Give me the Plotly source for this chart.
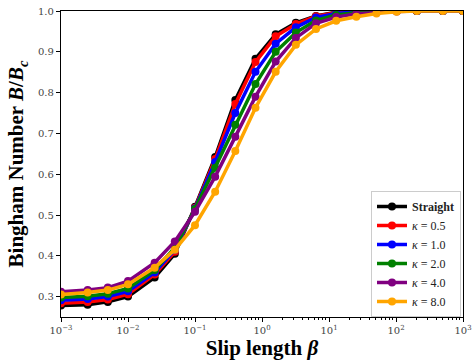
import plotly.graph_objects as go

# Slip length values (log-spaced sweep)
beta = [0.001, 0.0025, 0.005, 0.01, 0.025, 0.05, 0.1, 0.2, 0.4, 0.8, 1.6,
        3.2, 6.4, 12.8, 25.6, 51.2, 102.4, 204.8, 500, 1000]

# Normalised Bingham number B/B_c for each channel
straight = [0.278, 0.280, 0.287, 0.300, 0.347, 0.405, 0.520, 0.642, 0.782, 0.883,
            0.943, 0.971, 0.988, 0.997, 1.000, 1.000, 1.000, 1.000, 1.000, 1.000]
kappa_05 = [0.284, 0.287, 0.293, 0.306, 0.354, 0.410, 0.518, 0.637, 0.772, 0.875,
            0.938, 0.968, 0.987, 0.996, 0.999, 1.000, 1.000, 1.000, 1.000, 1.000]
kappa_10 = [0.291, 0.294, 0.300, 0.313, 0.359, 0.415, 0.516, 0.630, 0.750, 0.851,
            0.920, 0.960, 0.984, 0.994, 0.998, 1.000, 1.000, 1.000, 1.000, 1.000]
kappa_20 = [0.298, 0.301, 0.307, 0.320, 0.365, 0.420, 0.515, 0.616, 0.721, 0.821,
            0.900, 0.947, 0.977, 0.990, 0.996, 0.999, 1.000, 1.000, 1.000, 1.000]
kappa_40 = [0.312, 0.316, 0.322, 0.338, 0.383, 0.435, 0.508, 0.594, 0.692, 0.790,
            0.876, 0.934, 0.970, 0.985, 0.993, 0.997, 0.999, 1.000, 1.000, 1.000]
kappa_80 = [0.305, 0.310, 0.316, 0.330, 0.371, 0.415, 0.475, 0.557, 0.657, 0.763,
            0.851, 0.917, 0.956, 0.976, 0.986, 0.994, 0.998, 1.000, 1.000, 1.000]

series_names = ["<b>Straight</b>", "<i>κ</i> = 0.5", "<i>κ</i> = 1.0",
                "<i>κ</i> = 2.0", "<i>κ</i> = 4.0", "<i>κ</i> = 8.0"]
series_values = [straight, kappa_05, kappa_10, kappa_20, kappa_40, kappa_80]
series_colors = ["black", "red", "blue", "green", "purple", "orange"]

x_tickvals = [0.001, 0.01, 0.1, 1, 10, 100, 1000]
x_ticktext = ["10<sup>−3</sup>", "10<sup>−2</sup>", "10<sup>−1</sup>", "10<sup>0</sup>",
              "10<sup>1</sup>", "10<sup>2</sup>", "10<sup>3</sup>"]
y_tickvals = [0.3, 0.4, 0.5, 0.6, 0.7, 0.8, 0.9, 1.0]
y_ticktext = ["0.3", "0.4", "0.5", "0.6", "0.7", "0.8", "0.9", "1.0"]

serif = "DejaVu Serif"
title_font = "Liberation Serif"

fig = go.Figure()
for name, vals, col in zip(series_names, series_values, series_colors):
    fig.add_trace(go.Scatter(
        x=beta, y=vals, name=name, mode="lines+markers",
        line=dict(color=col, width=3.5),
        marker=dict(color=col, size=8),
    ))

fig.update_layout(
    width=475, height=360,
    margin=dict(l=61, r=3, t=11, b=43),
    paper_bgcolor="white", plot_bgcolor="white",
    font=dict(family=serif, color="black"),
    legend=dict(
        x=0.995, y=0.0, xanchor="right", yanchor="bottom",
        bgcolor="rgba(255,255,255,0.9)", bordercolor="#cccccc", borderwidth=1,
        font=dict(family=title_font, size=12, color="#222222"), itemwidth=30,
        tracegroupgap=0,
    ),
)

fig.update_xaxes(
    type="log", range=[-3, 3],
    tickvals=x_tickvals, ticktext=x_ticktext,
    tickfont=dict(family=serif, size=10, color="#444444"),
    ticklabeloverflow="allow",
    ticks="outside", ticklen=4, tickwidth=1, tickcolor="black",
    minor=dict(ticks="outside", ticklen=2, tickcolor="black",
               tickvals=[m * 10 ** e for e in range(-3, 3) for m in range(2, 10)]),
    showline=True, linecolor="black", linewidth=1.2, mirror=True,
    showgrid=False, zeroline=False,
    title=dict(text="<b>Slip length <i>β</i></b>",
               font=dict(family=title_font, size=21), standoff=6),
)
fig.update_yaxes(
    range=[0.25, 1.0],
    tickvals=y_tickvals, ticktext=y_ticktext,
    tickfont=dict(family=serif, size=10, color="#444444"),
    ticks="outside", ticklen=4, tickwidth=1, tickcolor="black",
    showline=True, linecolor="black", linewidth=1.2, mirror=True,
    showgrid=False, zeroline=False,
    title=dict(text="<b>Bingham Number <i>B</i>/<i>B<sub>c</sub></i></b>",
               font=dict(family=title_font, size=21), standoff=8),
)

fig.write_html("out.html")
